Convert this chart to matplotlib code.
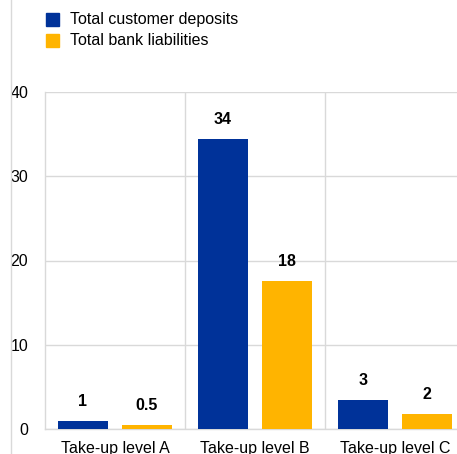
import numpy as np
import matplotlib.pyplot as plt
from matplotlib.lines import Line2D
from matplotlib.patches import Rectangle

plt.rcParams["font.family"] = ["Liberation Sans", "DejaVu Sans"]

categories = ["Take-up level A", "Take-up level B", "Take-up level C"]
series_names = ["Total customer deposits", "Total bank liabilities"]
deposits = [1.0, 34.4, 3.5]
liabilities = [0.5, 17.6, 1.8]
deposit_labels = ["1", "34", "3"]
liability_labels = ["0.5", "18", "2"]
yticks = [0, 10, 20, 30, 40]

blue = "#003299"
orange = "#ffb400"
grid_col = "#d9d9d9"
fs = 11.5

fig = plt.figure(figsize=(4.57, 4.54), dpi=100)
ax = fig.add_axes([45 / 457, 25 / 454, 420 / 457, 337 / 454])

x = np.arange(len(categories))
w = 0.357
off = 0.229
ax.bar(x - off, deposits, w, color=blue, zorder=3)
ax.bar(x + off, liabilities, w, color=orange, zorder=3)

for xi, v, lab in zip(x - off, deposits, deposit_labels):
    ax.annotate(lab, (xi, v), xytext=(0, 12), textcoords="offset pixels",
                ha="center", va="bottom", fontsize=fs, fontweight="bold")
for xi, v, lab in zip(x + off, liabilities, liability_labels):
    ax.annotate(lab, (xi, v), xytext=(0, 12), textcoords="offset pixels",
                ha="center", va="bottom", fontsize=fs, fontweight="bold")

ax.set_xlim(-0.5, 2.5)
ax.set_ylim(0, 40)
ax.set_yticks(yticks)
ax.set_xticks(x)
ax.set_xticklabels(categories, fontsize=fs)
ax.tick_params(axis="y", length=0, pad=12, labelsize=fs)
ax.tick_params(axis="x", length=0, pad=9)

# horizontal gridlines and category separators
ax.yaxis.grid(True, color=grid_col, linewidth=1, zorder=0)
for b in [0.5, 1.5]:
    ax.axvline(b, color=grid_col, linewidth=1, zorder=0)
for side in ["top", "right"]:
    ax.spines[side].set_visible(False)
for side in ["left", "bottom"]:
    ax.spines[side].set_color(grid_col)
    ax.spines[side].set_linewidth(1)

# thin frame line at the left of the figure
fig.add_artist(Line2D([10.5 / 457, 10.5 / 457], [0, 1], color=grid_col, linewidth=1))

# legend drawn by hand
for i, (name, col) in enumerate(zip(series_names, [blue, orange])):
    y0 = 1 - (26 + 21 * i) / 454
    fig.add_artist(Rectangle((46 / 457, y0), 13 / 457, 13 / 454, color=col,
                             transform=fig.transFigure))
    fig.text(70 / 457, y0 + 6.5 / 454, name, fontsize=fs, va="center")

fig.savefig("out.png", dpi=100)
